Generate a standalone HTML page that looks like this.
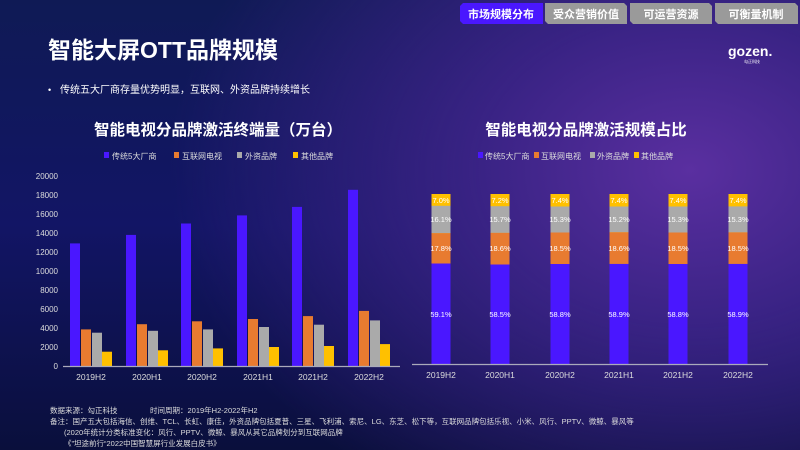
<!DOCTYPE html>
<html><head><meta charset="utf-8"><style>
html,body{margin:0;padding:0;width:800px;height:450px;overflow:hidden}
body{font-family:"Liberation Sans","Noto Sans CJK SC",sans-serif;
background:radial-gradient(ellipse 520px 380px at 690px 170px,#5a2fa0 0%,#3a2385 40%,rgba(20,20,90,0) 100%),linear-gradient(180deg,#0f1a55 0%,#121565 50%,#0a0f3c 100%);}
text{font-family:"Liberation Sans","Noto Sans CJK SC",sans-serif}
</style></head><body>
<svg width="800" height="450" xmlns="http://www.w3.org/2000/svg">
<!-- tabs -->
<path d="M463 3H543V24H463L460 21V6Z" fill="#4a17ff"/>
<path d="M545 3H624L627 6V24H548L545 21Z" fill="#9a9a9a"/>
<path d="M630 3H709L712 6V24H633L630 21Z" fill="#9a9a9a"/>
<path d="M715 3H795L798 6V24H718L715 21Z" fill="#9a9a9a"/>
<g fill="#fff" font-size="11" font-weight="bold" text-anchor="middle">
<text x="501" y="18">市场规模分布</text><text x="586" y="18">受众营销价值</text>
<text x="671" y="18">可运营资源</text><text x="756" y="18">可衡量机制</text></g>
<text x="48" y="58" fill="#fff" font-size="23" font-weight="bold">智能大屏OTT品牌规模</text>
<text x="728" y="56" fill="#fff" font-size="14" font-weight="bold">gozen.</text>
<text x="744" y="63" fill="#fff" font-size="4">勾正科技</text>
<text x="48" y="93" fill="#fff" font-size="9">•</text>
<text x="60" y="93" fill="#fff" font-size="10">传统五大厂商存量优势明显，互联网、外资品牌持续增长</text>
<text x="218" y="135" fill="#fff" font-size="15.5" font-weight="bold" text-anchor="middle">智能电视分品牌激活终端量（万台）</text>
<text x="586" y="135" fill="#fff" font-size="15.5" font-weight="bold" text-anchor="middle">智能电视分品牌激活规模占比</text>
<!-- legends -->
<g font-size="8" fill="#ddd">
<rect x="104" y="152" width="5" height="6" fill="#4a17ff"/><text x="112" y="159">传统5大厂商</text>
<rect x="174" y="152" width="5" height="6" fill="#e87b30"/><text x="182" y="159">互联网电视</text>
<rect x="237" y="152" width="5" height="6" fill="#aaa"/><text x="245" y="159">外资品牌</text>
<rect x="293" y="152" width="5" height="6" fill="#ffc000"/><text x="301" y="159">其他品牌</text>
<rect x="478" y="152" width="5" height="6" fill="#4a17ff"/><text x="485" y="159">传统5大厂商</text>
<rect x="534" y="152" width="5" height="6" fill="#e87b30"/><text x="541" y="159">互联网电视</text>
<rect x="590" y="152" width="5" height="6" fill="#aaa"/><text x="597" y="159">外资品牌</text>
<rect x="634" y="152" width="5" height="6" fill="#ffc000"/><text x="641" y="159">其他品牌</text>
</g>
<!-- left y axis -->
<g font-size="8" fill="#ddd" text-anchor="end">
<text x="58" y="369">0</text><text x="58" y="350">2000</text><text x="58" y="331">4000</text><text x="58" y="312">6000</text>
<text x="58" y="293">8000</text><text x="58" y="274">10000</text><text x="58" y="255">12000</text><text x="58" y="236">14000</text>
<text x="58" y="217">16000</text><text x="58" y="198">18000</text><text x="58" y="179">20000</text></g>
<g fill="#4a17ff">
<rect x="70" y="243.4" width="10" height="122.6"/><rect x="126" y="234.9" width="10" height="131.1"/>
<rect x="181" y="223.5" width="10" height="142.5"/><rect x="237" y="215.4" width="10" height="150.6"/>
<rect x="292" y="206.9" width="10" height="159.1"/><rect x="348" y="189.8" width="10" height="176.2"/></g>
<g fill="#e87b30">
<rect x="81" y="329.4" width="10" height="36.6"/><rect x="137" y="324.2" width="10" height="41.8"/>
<rect x="192" y="321.3" width="10" height="44.7"/><rect x="248" y="319" width="10" height="47"/>
<rect x="303" y="316.1" width="10" height="49.9"/><rect x="359" y="310.9" width="10" height="55.1"/></g>
<g fill="#aaa">
<rect x="92" y="332.7" width="10" height="33.3"/><rect x="148" y="330.8" width="10" height="35.2"/>
<rect x="203" y="329.4" width="10" height="36.6"/><rect x="259" y="327" width="10" height="39"/>
<rect x="314" y="324.7" width="10" height="41.3"/><rect x="370" y="320.4" width="10" height="45.6"/></g>
<g fill="#ffc000">
<rect x="102" y="351.7" width="10" height="14.3"/><rect x="158" y="350.3" width="10" height="15.7"/>
<rect x="213" y="348.4" width="10" height="17.6"/><rect x="269" y="347" width="10" height="19"/>
<rect x="324" y="346" width="10" height="20"/><rect x="380" y="344.1" width="10" height="21.9"/></g>
<line x1="63" y1="366.5" x2="400" y2="366.5" stroke="#aab" stroke-width="1.2"/>
<g font-size="8.5" fill="#ddd" text-anchor="middle">
<text x="91" y="380">2019H2</text><text x="147" y="380">2020H1</text><text x="202" y="380">2020H2</text>
<text x="258" y="380">2021H1</text><text x="313" y="380">2021H2</text><text x="369" y="380">2022H2</text></g>
<!-- right stacked -->
<g id="r">
<rect x="431.5" y="194" width="19" height="170" fill="#ffc000"/>
<rect x="431.5" y="205.8" width="19" height="27.4" fill="#aaa"/>
<rect x="431.5" y="233.2" width="19" height="30.3" fill="#e87b30"/>
<rect x="431.5" y="263.5" width="19" height="100.5" fill="#4a17ff"/>
<rect x="490.5" y="194" width="19" height="170" fill="#ffc000"/>
<rect x="490.5" y="206.2" width="19" height="26.7" fill="#aaa"/>
<rect x="490.5" y="232.9" width="19" height="31.6" fill="#e87b30"/>
<rect x="490.5" y="264.5" width="19" height="99.5" fill="#4a17ff"/>
<rect x="550.5" y="194" width="19" height="170" fill="#ffc000"/>
<rect x="550.5" y="206.5" width="19" height="26" fill="#aaa"/>
<rect x="550.5" y="232.5" width="19" height="31.5" fill="#e87b30"/>
<rect x="550.5" y="264" width="19" height="100" fill="#4a17ff"/>
<rect x="609.5" y="194" width="19" height="170" fill="#ffc000"/>
<rect x="609.5" y="206.5" width="19" height="25.8" fill="#aaa"/>
<rect x="609.5" y="232.3" width="19" height="31.6" fill="#e87b30"/>
<rect x="609.5" y="263.9" width="19" height="100.1" fill="#4a17ff"/>
<rect x="668.5" y="194" width="19" height="170" fill="#ffc000"/>
<rect x="668.5" y="206.5" width="19" height="26" fill="#aaa"/>
<rect x="668.5" y="232.5" width="19" height="31.5" fill="#e87b30"/>
<rect x="668.5" y="264" width="19" height="100" fill="#4a17ff"/>
<rect x="728.5" y="194" width="19" height="170" fill="#ffc000"/>
<rect x="728.5" y="206.4" width="19" height="26" fill="#aaa"/>
<rect x="728.5" y="232.4" width="19" height="31.5" fill="#e87b30"/>
<rect x="728.5" y="263.9" width="19" height="100.1" fill="#4a17ff"/>
</g>
<g font-size="7.5" fill="#fff" text-anchor="middle">
<text x="441" y="203">7.0%</text><text x="500" y="203">7.2%</text><text x="560" y="203">7.4%</text><text x="619" y="203">7.4%</text><text x="678" y="203">7.4%</text><text x="738" y="203">7.4%</text>
<text x="441" y="222">16.1%</text><text x="500" y="222">15.7%</text><text x="560" y="222">15.3%</text><text x="619" y="222">15.2%</text><text x="678" y="222">15.3%</text><text x="738" y="222">15.3%</text>
<text x="441" y="251">17.8%</text><text x="500" y="251">18.6%</text><text x="560" y="251">18.5%</text><text x="619" y="251">18.6%</text><text x="678" y="251">18.5%</text><text x="738" y="251">18.5%</text>
<text x="441" y="317">59.1%</text><text x="500" y="317">58.5%</text><text x="560" y="317">58.8%</text><text x="619" y="317">58.9%</text><text x="678" y="317">58.8%</text><text x="738" y="317">58.9%</text></g>
<line x1="412" y1="364.5" x2="768" y2="364.5" stroke="#aab" stroke-width="1.2"/>
<g font-size="8.5" fill="#ddd" text-anchor="middle">
<text x="441" y="378">2019H2</text><text x="500" y="378">2020H1</text><text x="560" y="378">2020H2</text>
<text x="619" y="378">2021H1</text><text x="678" y="378">2021H2</text><text x="738" y="378">2022H2</text></g>
<!-- footer -->
<g font-size="7.5" fill="#ddd">
<text x="50" y="413">数据来源：勾正科技</text><text x="150" y="413">时间周期：2019年H2-2022年H2</text>
<text x="50" y="424">备注：国产五大包括海信、创维、TCL、长虹、康佳，外资品牌包括夏普、三星、飞利浦、索尼、LG、东芝、松下等，互联网品牌包括乐视、小米、风行、PPTV、微鲸、暴风等</text>
<text x="64" y="435">(2020年统计分类标准变化：风行、PPTV、微鲸、暴风从其它品牌划分到互联网品牌</text>
<text x="64" y="446">《”坦途前行“2022中国智慧屏行业发展白皮书》</text></g>
</svg>
</body></html>
